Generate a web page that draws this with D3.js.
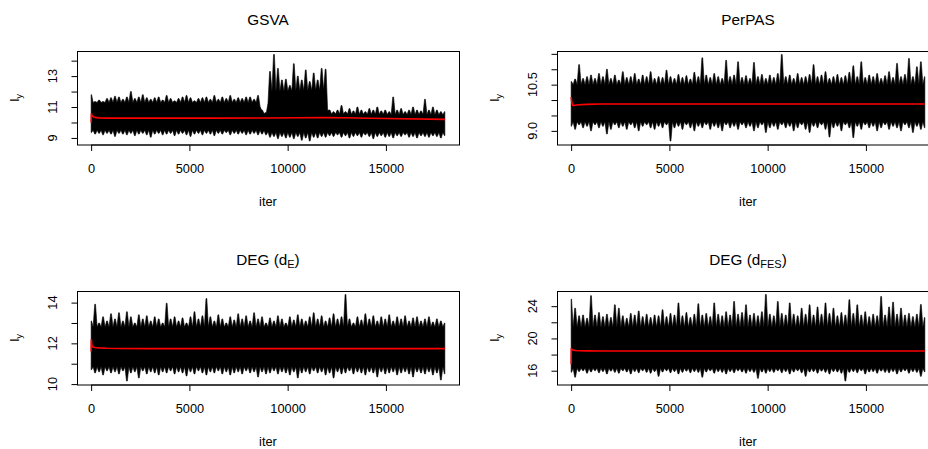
<!DOCTYPE html>
<html>
<head>
<meta charset="utf-8">
<script src="https://cdn.jsdelivr.net/npm/d3@7"></script>
<style>
  body { margin: 0; background: #fff; }
  svg { display: block; }
  text { font-family: "Liberation Sans", Arial, Helvetica, sans-serif; fill: #000; }
</style>
</head>
<body>
<svg id="chart" width="928" height="449"></svg>
<script>
// MCMC trace of l_y for four models. For each model: the solid core of the
// chain (coreIter / coreHi / coreLo), the per-200-iteration extremes (hi / lo)
// that stick out of it, and the running mean (red).
const iterFirst = 1;
const iterLast = 18000;
const xTicks = [0, 5000, 10000, 15000];

// GSVA
const gsvaHi = [
  11.8, 11.35, 11.45, 11.35, 11.55, 11.6, 11.7, 11.65, 11.5, 11.65,
  12.0, 11.55, 11.65, 11.8, 11.6, 11.5, 11.6, 11.65, 11.45, 11.75,
  11.55, 11.4, 11.55, 11.65, 11.75, 11.6, 11.4, 11.55, 11.6, 11.65,
  11.5, 11.75, 11.5, 11.65, 11.55, 11.75, 11.5, 11.6, 11.55, 11.65,
  11.65, 11.5, 11.75, 10.8, 10.65, 13.3, 14.4, 13.5, 12.75, 12.8,
  12.4, 13.8, 13.0, 12.75, 13.4, 12.65, 13.2, 12.75, 13.5, 13.45,
  10.8, 10.7, 10.8, 11.1, 10.7, 10.9, 10.75, 11.0, 10.8, 10.7,
  10.9, 10.8, 11.0, 10.75, 10.8, 10.7, 11.65, 10.8, 10.9, 10.7,
  10.8, 11.0, 10.8, 10.75, 11.5, 10.8, 11.0, 10.8, 10.7, 10.7
];
const gsvaLo = [
  9.35, 9.25, 9.3, 9.2, 9.3, 9.25, 9.1, 9.3, 9.25, 9.2,
  9.3, 9.15, 9.25, 9.3, 9.2, 9.05, 9.25, 9.3, 9.2, 9.25,
  9.3, 9.15, 9.25, 9.3, 9.2, 9.1, 9.25, 9.3, 9.2, 9.3,
  9.25, 9.15, 9.3, 9.25, 9.35, 9.2, 9.3, 9.25, 9.3, 9.2,
  9.25, 9.3, 9.2, 9.25, 9.2, 9.05, 9.1, 8.95, 9.1, 9.0,
  9.05, 8.95, 9.1, 8.85, 9.0, 8.8, 9.05, 9.0, 9.1, 9.05,
  9.15, 9.1, 9.2, 9.05, 9.15, 9.0, 9.1, 9.15, 9.05, 9.2,
  9.1, 8.95, 9.1, 9.15, 9.05, 9.1, 9.0, 9.15, 9.1, 9.2,
  9.05, 9.1, 9.0, 9.15, 9.1, 9.05, 9.15, 9.1, 9.0, 9.15
];
const gsvaCoreIter = [1, 8500, 8750, 8950, 9050, 11950, 12050, 18000];
const gsvaCoreHi = [11.3, 11.3, 10.6, 10.5, 12.0, 12.1, 10.55, 10.5];
const gsvaCoreLo = [9.5, 9.5, 9.5, 9.45, 9.35, 9.35, 9.35, 9.35];
const gsvaMeanIter = [1, 15, 40, 100, 200, 400, 800, 1500, 3000, 6000, 9000, 12000, 15000, 18000];
const gsvaMean = [10.0, 10.58, 10.45, 10.38, 10.33, 10.3, 10.28, 10.28, 10.28, 10.28, 10.29, 10.32, 10.26, 10.2];

// PerPAS
const perpasHi = [
  10.60, 10.68, 11.15, 10.70, 10.76, 10.81, 10.70, 10.86, 10.76, 11.00,
  10.70, 10.81, 10.65, 10.92, 10.73, 10.76, 10.86, 10.68, 10.81, 10.76,
  10.92, 10.70, 10.76, 10.73, 10.97, 10.76, 10.70, 10.83, 10.73, 10.79,
  10.68, 10.90, 10.76, 11.37, 10.81, 10.73, 10.86, 10.76, 10.70, 11.29,
  10.76, 10.81, 11.24, 10.73, 10.79, 10.70, 11.22, 10.76, 10.83, 10.70,
  10.81, 10.73, 10.86, 11.48, 10.76, 10.81, 10.70, 10.86, 10.73, 10.76,
  10.83, 11.15, 10.76, 10.81, 10.92, 10.70, 10.76, 10.83, 10.73, 10.79,
  10.90, 11.11, 10.76, 11.24, 10.73, 10.81, 10.76, 10.86, 10.70, 10.79,
  10.92, 10.73, 11.19, 10.76, 10.83, 11.35, 10.76, 11.08, 11.24, 10.76
];
const perpasLo = [
  9.15, 9.05, 9.2, 9.1, 9.15, 9.0, 9.2, 9.1, 9.15, 8.9,
  9.05, 9.2, 9.1, 9.15, 9.05, 9.2, 9.1, 9.0, 9.15, 9.2,
  9.1, 9.05, 9.15, 9.1, 9.2, 8.67, 9.1, 9.15, 9.05, 9.2,
  9.1, 9.0, 9.15, 9.1, 9.2, 9.05, 9.15, 9.1, 9.0, 9.2,
  9.1, 9.15, 9.05, 9.2, 9.1, 9.15, 9.0, 9.1, 9.2, 8.95,
  9.1, 9.15, 9.05, 9.2, 9.1, 9.15, 9.0, 9.1, 9.2, 9.05,
  8.95, 9.15, 9.1, 9.2, 9.05, 8.8, 9.1, 9.15, 9.0, 9.2,
  9.1, 8.78, 9.15, 9.05, 9.2, 9.1, 9.15, 9.0, 9.1, 9.2,
  9.05, 9.15, 9.1, 9.0, 9.2, 9.1, 8.95, 9.15, 9.05, 9.1
];
const perpasCoreIter = [1, 18000];
const perpasCoreHi = [10.5, 10.5];
const perpasCoreLo = [9.3, 9.3];
const perpasMeanIter = [1, 20, 50, 100, 200, 400, 800, 1500, 3000, 6000, 9000, 12000, 15000, 18000];
const perpasMean = [10.1, 10.0, 9.88, 9.82, 9.83, 9.85, 9.86, 9.87, 9.87, 9.87, 9.87, 9.87, 9.87, 9.87];

// DEG (d_E)
const degEHi = [
  13.1, 13.92, 13.0, 13.3, 13.1, 13.45, 13.2, 13.5, 13.1, 13.55,
  13.3, 13.0, 13.4, 13.2, 13.35, 13.1, 13.3, 13.2, 13.0, 13.97,
  13.2, 13.3, 13.1, 13.25, 13.0, 13.3, 13.55, 13.2, 13.35, 14.2,
  13.3, 13.1, 13.4, 13.2, 13.0, 13.3, 13.15, 13.45, 13.2, 13.35,
  13.1, 13.5, 13.2, 13.3, 13.0, 13.25, 13.1, 13.35, 13.2, 13.0,
  13.3, 13.15, 13.4, 13.2, 13.1, 13.3, 13.5, 13.2, 13.35, 13.1,
  13.25, 13.45, 13.2, 13.3, 14.4, 13.2, 13.0, 13.3, 13.15, 13.45,
  13.2, 13.35, 13.1, 13.3, 13.2, 13.4, 13.1, 13.3, 13.2, 13.35,
  13.1, 13.25, 13.3, 13.1, 13.2, 13.3, 13.05, 13.2, 13.1, 13.0
];
const degELo = [
  10.7, 10.55, 10.6, 10.45, 10.65, 10.55, 10.6, 10.5, 10.65, 10.15,
  10.55, 10.6, 10.3, 10.65, 10.5, 10.6, 10.55, 10.45, 10.6, 10.55,
  10.65, 10.5, 10.6, 10.55, 10.4, 10.6, 10.5, 10.65, 10.55, 10.45,
  10.6, 10.55, 10.65, 10.5, 10.6, 10.45, 10.55, 10.6, 10.5, 10.65,
  10.55, 10.6, 10.35, 10.6, 10.5, 10.55, 10.65, 10.5, 10.6, 10.55,
  10.45, 10.6, 10.3, 10.55, 10.6, 10.5, 10.65, 10.55, 10.6, 10.45,
  10.55, 10.3, 10.6, 10.5, 10.55, 10.65, 10.5, 10.6, 10.55, 10.45,
  10.6, 10.55, 10.35, 10.6, 10.5, 10.55, 10.6, 10.45, 10.55, 10.6,
  10.5, 10.35, 10.6, 10.55, 10.5, 10.6, 10.45, 10.55, 10.2, 10.5
];
const degECoreIter = [1, 18000];
const degECoreHi = [12.8, 12.8];
const degECoreLo = [10.85, 10.85];
const degEMeanIter = [1, 10, 30, 60, 100, 200, 400, 800, 1500, 3000, 6000, 12000, 18000];
const degEMean = [11.6, 12.2, 11.95, 11.85, 11.82, 11.8, 11.78, 11.76, 11.75, 11.74, 11.74, 11.74, 11.74];

// DEG (d_FES)
const degFesHi = [
  24.87, 23.75, 22.8, 22.9, 22.5, 25.3, 22.9, 23.2, 22.7, 23.0,
  22.6, 24.16, 23.75, 22.8, 22.5, 23.1, 22.9, 23.4, 22.7, 23.0,
  22.6, 22.9, 22.8, 23.55, 22.7, 23.1, 22.9, 24.4, 22.8, 23.2,
  22.6, 23.0, 24.3, 22.9, 23.1, 22.7, 24.4, 23.0, 22.8, 23.3,
  22.9, 24.58, 23.0, 23.2, 24.16, 22.9, 23.1, 22.8, 23.3, 25.45,
  23.0, 22.8, 24.58, 23.1, 22.9, 24.4, 23.0, 22.8, 23.75, 23.0,
  24.16, 22.9, 23.9, 23.0, 24.4, 23.1, 23.75, 22.8, 23.2, 22.9,
  24.8, 23.1, 24.16, 22.9, 23.3, 22.7, 23.0, 22.8, 25.2, 22.9,
  23.9, 24.5, 23.0, 23.75, 22.9, 23.1, 22.7, 23.0, 24.2, 22.6
];
const degFesLo = [
  15.8, 15.2, 15.9, 16.0, 15.7, 15.85, 16.0, 15.75, 15.9, 15.6,
  15.95, 15.8, 15.7, 16.0, 15.85, 15.6, 15.9, 15.75, 16.0, 15.8,
  15.7, 15.9, 15.3, 15.85, 16.0, 15.75, 15.9, 15.6, 15.8, 15.95,
  15.75, 15.9, 15.8, 15.2, 15.85, 16.0, 15.7, 15.9, 15.8, 15.6,
  15.9, 15.75, 16.0, 15.85, 15.7, 15.9, 15.8, 15.05, 15.85, 15.7,
  15.9, 15.8, 16.0, 15.75, 15.9, 15.6, 15.85, 16.0, 15.75, 15.3,
  15.85, 15.9, 15.7, 15.95, 15.8, 15.6, 15.9, 15.85, 15.7, 14.72,
  15.8, 15.9, 15.75, 16.0, 15.6, 15.85, 15.9, 15.7, 15.95, 15.8,
  15.75, 15.9, 15.6, 15.85, 16.0, 15.7, 15.9, 15.8, 15.3, 15.85
];
const degFesCoreIter = [1, 18000];
const degFesCoreHi = [21.4, 21.4];
const degFesCoreLo = [16.3, 16.3];
const degFesMeanIter = [1, 10, 30, 60, 100, 200, 400, 800, 1500, 6000, 12000, 18000];
const degFesMean = [16.8, 18.8, 18.65, 18.58, 18.55, 18.5, 18.48, 18.46, 18.45, 18.44, 18.44, 18.44];

const panels = [
  { title: "GSVA", sub: null, hi: gsvaHi, lo: gsvaLo,
    coreIter: gsvaCoreIter, coreHi: gsvaCoreHi, coreLo: gsvaCoreLo,
    meanIter: gsvaMeanIter, mean: gsvaMean,
    yTicks: [9, 10, 11, 12, 13, 14], yLabels: ["9", "11", "13"], col: 0, row: 0 },
  { title: "PerPAS", sub: null, hi: perpasHi, lo: perpasLo,
    coreIter: perpasCoreIter, coreHi: perpasCoreHi, coreLo: perpasCoreLo,
    meanIter: perpasMeanIter, mean: perpasMean,
    yTicks: [9.0, 9.5, 10.0, 10.5, 11.0, 11.5], yLabels: ["9.0", "10.5"], col: 1, row: 0 },
  { title: "DEG (d", sub: "E", hi: degEHi, lo: degELo,
    coreIter: degECoreIter, coreHi: degECoreHi, coreLo: degECoreLo,
    meanIter: degEMeanIter, mean: degEMean,
    yTicks: [10, 11, 12, 13, 14], yLabels: ["10", "12", "14"], col: 0, row: 1 },
  { title: "DEG (d", sub: "FES", hi: degFesHi, lo: degFesLo,
    coreIter: degFesCoreIter, coreHi: degFesCoreHi, coreLo: degFesCoreLo,
    meanIter: degFesMeanIter, mean: degFesMean,
    yTicks: [16, 18, 20, 22, 24], yLabels: ["16", "20", "24"], col: 1, row: 1 }
];

// layout of each cell of the 2 x 2 grid
const cellW = 480, cellH = 240;
const plotL = 77, plotR = 459, plotT = 51, plotB = 144.5;
const tickFont = 12.8, titleFont = 15.3;
const spikeTop = 0.4;   // half-width (px) of a spike's tip

const svg = d3.select("#chart");

panels.forEach(p => {
  const g = svg.append("g").attr("transform", `translate(${p.col * cellW},${p.row * cellH})`);

  // R-style axis extents: data range padded by 4% on each side
  const n = p.hi.length;
  const iters = d3.range(n).map(i => iterFirst + i * (iterLast - iterFirst) / (n - 1));
  const xr = iterLast - iterFirst;
  const x = d3.scaleLinear().domain([iterFirst - 0.04 * xr, iterLast + 0.04 * xr]).range([plotL, plotR]);
  const ymin = d3.min(p.lo), ymax = d3.max(p.hi), yr = ymax - ymin;
  const y = d3.scaleLinear().domain([ymin - 0.04 * yr, ymax + 0.04 * yr]).range([plotB, plotT]);
  const coreTop = d3.scaleLinear().domain(p.coreIter).range(p.coreHi);
  const coreBot = d3.scaleLinear().domain(p.coreIter).range(p.coreLo);

  // trace: between blocks the outline drops back to the solid core; at each
  // block it reaches that block's extreme value
  const pts = [{ px: x(iterFirst), y1: y(coreTop(iterFirst)), y0: y(coreBot(iterFirst)) }];
  for (let i = 0; i < n; i++) {
    const cx = x(iters[i]);
    const top = Math.max(p.hi[i], coreTop(iters[i]));
    const bot = Math.min(p.lo[i], coreBot(iters[i]));
    pts.push({ px: Math.max(x(iterFirst), cx - spikeTop), y1: y(top), y0: y(bot) });
    pts.push({ px: Math.min(x(iterLast), cx + spikeTop), y1: y(top), y0: y(bot) });
    if (i < n - 1) {
      const m = (iters[i] + iters[i + 1]) / 2;
      pts.push({ px: x(m), y1: y(coreTop(m)), y0: y(coreBot(m)) });
    }
  }
  pts.push({ px: x(iterLast), y1: y(coreTop(iterLast)), y0: y(coreBot(iterLast)) });

  const band = d3.area().x(d => d.px).y0(d => d.y0).y1(d => d.y1);
  g.append("path")
    .attr("d", band(pts))
    .attr("fill", "#000")
    .attr("stroke", "#000")
    .attr("stroke-width", 0.6)
    .attr("stroke-linejoin", "round");

  // running mean
  const meanLine = d3.line()
    .x((d, i) => x(p.meanIter[i]))
    .y(d => y(d));
  g.append("path")
    .attr("d", meanLine(p.mean))
    .attr("fill", "none")
    .attr("stroke", "#ff0000")
    .attr("stroke-width", 1.6);

  // box
  g.append("rect")
    .attr("x", plotL + 0.5).attr("y", plotT + 0.5)
    .attr("width", plotR - plotL).attr("height", plotB - plotT)
    .attr("fill", "none").attr("stroke", "#000").attr("stroke-width", 1);

  // x axis
  const xAxis = d3.axisBottom(x).tickValues(xTicks).tickFormat(d3.format("d")).tickSize(6).tickPadding(4);
  const gx = g.append("g").attr("transform", `translate(0,${plotB + 0.5})`).call(xAxis);
  gx.select(".domain").attr("d", `M${x(xTicks[0])},0H${x(xTicks[xTicks.length - 1])}`).attr("stroke", "#000");
  gx.selectAll(".tick line").attr("stroke", "#000");
  gx.selectAll(".tick text")
    .attr("font-size", tickFont)
    .attr("font-family", "Liberation Sans, Arial, sans-serif")
    .attr("fill", "#000")
    .attr("dy", null)
    .attr("y", 27.5);

  // y axis
  const yAxis = d3.axisLeft(y).tickValues(p.yTicks).tickSize(6).tickFormat("");
  const gy = g.append("g").attr("transform", `translate(${plotL + 0.5},0)`).call(yAxis);
  gy.select(".domain").attr("d", `M0,${y(p.yTicks[0])}V${y(p.yTicks[p.yTicks.length - 1])}`).attr("stroke", "#000");
  gy.selectAll(".tick line").attr("stroke", "#000");

  g.selectAll("text.ylab")
    .data(p.yLabels)
    .join("text")
    .attr("class", "ylab")
    .attr("transform", d => `translate(${plotL - 20},${y(+d)}) rotate(-90)`)
    .attr("text-anchor", "middle")
    .attr("font-size", tickFont)
    .text(d => d);

  // axis titles
  g.append("text")
    .attr("x", (plotL + plotR) / 2).attr("y", plotB + 61)
    .attr("text-anchor", "middle").attr("font-size", tickFont)
    .text("iter");

  const yt = g.append("text")
    .attr("transform", `translate(${plotL - 58},${(plotT + plotB) / 2}) rotate(-90)`)
    .attr("text-anchor", "middle").attr("font-size", tickFont);
  yt.append("tspan").text("l");
  yt.append("tspan").attr("font-size", tickFont * 0.75).attr("dy", 3).text("y");

  // panel title
  const t = g.append("text")
    .attr("x", (plotL + plotR) / 2).attr("y", 24.5)
    .attr("text-anchor", "middle").attr("font-size", titleFont);
  t.append("tspan").text(p.title);
  if (p.sub) {
    t.append("tspan").attr("font-size", titleFont * 0.72).attr("dy", 3).text(p.sub);
    t.append("tspan").attr("dy", -3).text(")");
  }
});
</script>
</body>
</html>
